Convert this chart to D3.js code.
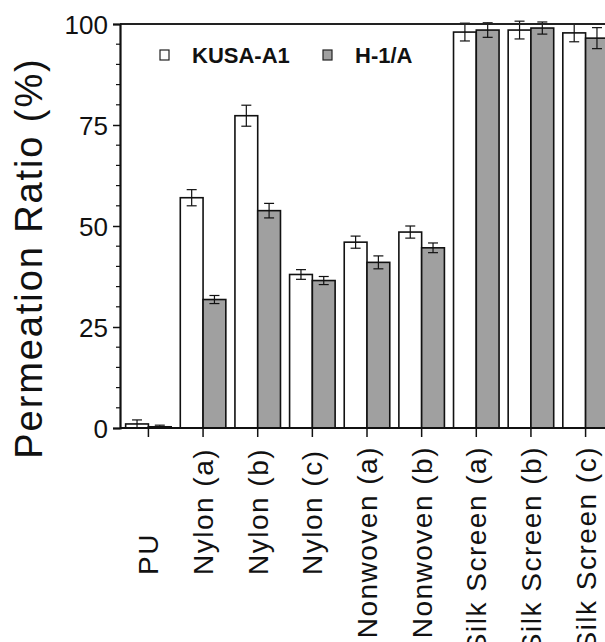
<!DOCTYPE html>
<html><head><meta charset="utf-8">
<script src="https://cdn.jsdelivr.net/npm/d3@7"></script>
<style>body{margin:0;background:#fff}svg{display:block}text{font-family:"Liberation Sans",Arial,sans-serif;fill:#111}</style>
</head><body>
<svg id="c" width="605" height="642"></svg>
<script>
const categories = ["PU","Nylon (a)","Nylon (b)","Nylon (c)","Nonwoven (a)","Nonwoven (b)","Silk Screen (a)","Silk Screen (b)","Silk Screen (c)"];
const seriesNames = ["KUSA-A1","H-1/A"];
const kusaValues = [1.0, 57.0, 77.3, 38.0, 46.0, 48.5, 98.0, 98.5, 97.8];
const kusaErrors = [1.0, 2.0, 2.6, 1.2, 1.5, 1.5, 2.2, 2.2, 2.2];
const h1aValues  = [0.3, 31.8, 53.8, 36.5, 41.0, 44.6, 98.5, 99.0, 96.5];
const h1aErrors  = [0.4, 1.0, 1.8, 1.0, 1.6, 1.2, 1.8, 1.5, 2.6];
const yTicks = [0, 25, 50, 75, 100];

const svg = d3.select("#c");
const L = 120, B = 428, T = 24, R = 614;
const y = d3.scaleLinear().domain([0, 100]).range([B, T]);
const x0 = d3.scaleBand().domain(categories).range([L, R]).paddingInner(0).paddingOuter(0.02);
const x1 = d3.scaleBand().domain(seriesNames).range([0, x0.bandwidth()]).paddingInner(0).paddingOuter(0.2);
const fills = {"KUSA-A1": "#ffffff", "H-1/A": "#a0a0a0"};

const rows = categories.map((c, i) => ({cat: c, vals: [
  {s: "KUSA-A1", v: kusaValues[i], e: kusaErrors[i]},
  {s: "H-1/A", v: h1aValues[i], e: h1aErrors[i]}]}));

const g = svg.append("g");
const grp = g.selectAll("g.grp").data(rows).join("g").attr("transform", d => `translate(${x0(d.cat)},0)`);
grp.selectAll("rect").data(d => d.vals).join("rect")
  .attr("x", d => x1(d.s)).attr("width", x1.bandwidth())
  .attr("y", d => y(d.v)).attr("height", d => y(0) - y(d.v))
  .attr("fill", d => fills[d.s]).attr("stroke", "#111").attr("stroke-width", 1.6);
// error bars
const eb = grp.selectAll("g.eb").data(d => d.vals).join("g").attr("class","eb")
  .attr("transform", d => `translate(${x1(d.s) + x1.bandwidth()/2},0)`);
eb.append("line").attr("y1", d => y(d.v + d.e)).attr("y2", d => y(d.v - d.e)).attr("stroke", "#111").attr("stroke-width", 1.2);
eb.append("line").attr("x1", -5).attr("x2", 5).attr("y1", d => y(d.v + d.e)).attr("y2", d => y(d.v + d.e)).attr("stroke", "#111").attr("stroke-width", 1.2);
eb.append("line").attr("x1", -5).attr("x2", 5).attr("y1", d => y(d.v - d.e)).attr("y2", d => y(d.v - d.e)).attr("stroke", "#111").attr("stroke-width", 1.2);

// top frame
svg.append("line").attr("x1", L).attr("x2", 605).attr("y1", T).attr("y2", T).attr("stroke", "#222").attr("stroke-width", 2);

// y axis
const yAxis = d3.axisLeft(y).tickValues(yTicks).tickSize(7).tickPadding(5).tickFormat(d3.format("d"));
const ya = svg.append("g").attr("transform", `translate(${L},0)`).call(yAxis);
ya.select(".domain").attr("stroke", "#111").attr("stroke-width", 2.2);
ya.selectAll(".tick line").attr("stroke", "#111").attr("stroke-width", 1.5);
ya.selectAll(".tick text").attr("font-size", 26).attr("fill", "#111").attr("dy", "0.35em");
const minor = d3.range(0, 101, 5).filter(v => v % 25 !== 0);
svg.append("g").selectAll("line").data(minor).join("line")
  .attr("x1", L - 4).attr("x2", L).attr("y1", d => y(d)).attr("y2", d => y(d)).attr("stroke", "#111").attr("stroke-width", 1.2);

// x axis
const xa = svg.append("g").attr("transform", `translate(0,${B})`)
  .call(d3.axisBottom(x0).tickSize(9).tickFormat(""));
xa.select(".domain").attr("stroke", "#111").attr("stroke-width", 2.2).attr("d", `M${L},0H605`);
xa.selectAll(".tick line").attr("stroke", "#111").attr("stroke-width", 1.5);

// category labels
const lab = svg.append("g").selectAll("text").data(categories).join("text")
  .attr("font-size", 28).attr("letter-spacing", "1.5px").text(d => d);
lab.each(function(d) {
  const len = this.getComputedTextLength();
  const bottom = 575, topLimit = 446;
  const yStart = Math.max(bottom, topLimit + len);
  const cx = x0(d) + x0.bandwidth() / 2 + 10;
  d3.select(this).attr("transform", `translate(${cx},${yStart}) rotate(-90)`).attr("text-anchor", "start");
});

// y title
svg.append("text").attr("transform", `translate(42,258) rotate(-90)`).attr("text-anchor", "middle")
  .attr("font-size", 38).attr("letter-spacing", "1.9px").text("Permeation Ratio (%)");

// legend
const leg = svg.append("g");
const legX = [160, 323], legT = [192, 355];
seriesNames.forEach((s, i) => {
  leg.append("rect").attr("x", legX[i]).attr("y", 50).attr("width", 9).attr("height", 10)
    .attr("fill", fills[s]).attr("stroke", "#222").attr("stroke-width", 1.2);
  leg.append("text").attr("x", legT[i]).attr("y", 63).attr("font-size", 22).attr("font-weight", "bold").text(s);
});
</script>
</body></html>
